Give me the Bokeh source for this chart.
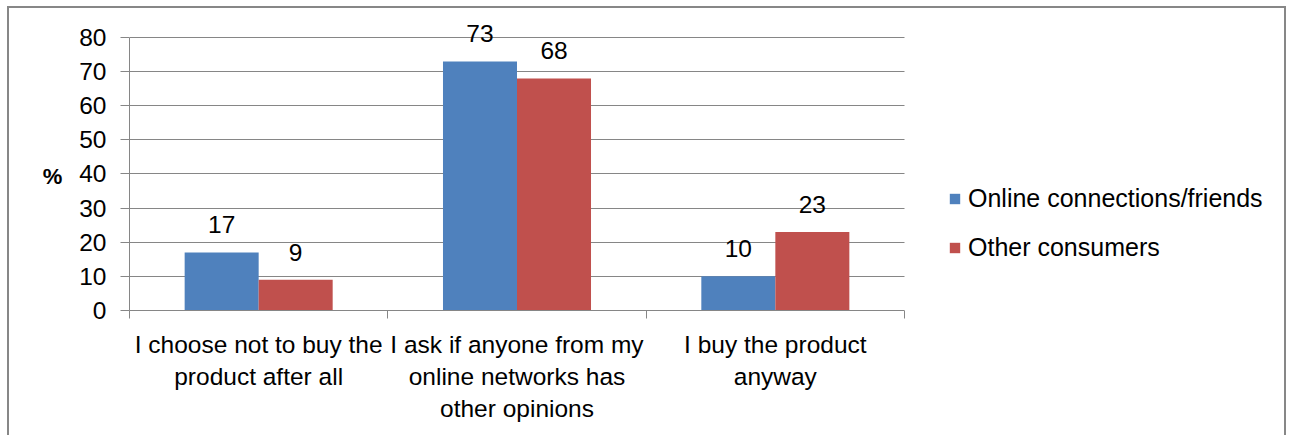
import numpy as np
from bokeh.plotting import figure
from bokeh.models import (Range1d, FixedTicker, ColumnDataSource, Legend, LegendItem,
                          LabelSet, BoxAnnotation)
from bokeh.core.properties import value
from bokeh.embed import file_html
from bokeh.resources import INLINE

categories = ["I choose not to buy the\nproduct after all",
              "I ask if anyone from my\nonline networks has\nother opinions",
              "I buy the product\nanyway"]
series_names = ["Online connections/friends", "Other consumers"]
online_friends = [17, 73, 10]
other_consumers = [9, 68, 23]
y_ticks = [0, 10, 20, 30, 40, 50, 60, 70, 80]
y_title = "%"

FONT = "Liberation Sans"
FS = "24.5px"
BLUE = "#4F81BD"
RED = "#C0504D"
GRAY = "#868686"

n = len(categories)
idx = np.arange(n)
w = 0.2865
centers = idx + 0.5

# canvas placed at (9, 8) inside a 2px CSS border starting at (7, 6)
p = figure(width=1279, height=429, output_backend="svg", toolbar_location=None,
           x_range=Range1d(0, n + 1.4787), y_range=Range1d(0, 86.15),
           min_border_left=120, min_border_right=2, min_border_top=8, min_border_bottom=127,
           margin=(6, 0, 0, 7),
           styles={"border-left": "2px solid #878787", "border-top": "2px solid #878787",
                   "border-right": "2px solid #878787"})
p.outline_line_color = None
p.background_fill_color = "white"
p.border_fill_color = "white"

src1 = ColumnDataSource(dict(x=centers - w / 2, top=online_friends, lab=[str(v) for v in online_friends]))
src2 = ColumnDataSource(dict(x=centers + w / 2, top=other_consumers, lab=[str(v) for v in other_consumers]))

r1 = p.vbar(x="x", top="top", bottom=0, width=w, source=src1, fill_color=BLUE, line_color=None)
r2 = p.vbar(x="x", top="top", bottom=0, width=w, source=src2, fill_color=RED, line_color=None)

# blank out the gridlines to the right of the plot area (legend area)
p.add_layout(BoxAnnotation(left=n, fill_color="white", fill_alpha=1, line_color=None))

for s in (src1, src2):
    p.add_layout(LabelSet(x="x", y="top", text="lab", source=s, text_align="center",
                          text_baseline="alphabetic", y_offset=19, text_font=value(FONT),
                          text_font_size=value(FS), text_color="#000000"))

# y axis
yax = p.yaxis[0]
yax.bounds = (0, 80)
yax.ticker = FixedTicker(ticks=y_ticks)
yax.axis_line_color = GRAY
yax.major_tick_line_color = GRAY
yax.major_tick_out = 9
yax.major_tick_in = 0
yax.minor_tick_line_color = None
yax.major_label_text_font = FONT
yax.major_label_text_font_size = FS
yax.major_label_text_color = "#000000"
yax.major_label_standoff = 14
yax.axis_label = "\n" + y_title
yax.axis_label_orientation = "horizontal"
yax.axis_label_text_font = FONT
yax.axis_label_text_font_size = "22px"
yax.axis_label_text_font_style = "bold"
yax.axis_label_text_color = "#000000"
yax.axis_label_text_line_height = 1.0
yax.axis_label_standoff = 14

# x axis
xax = p.xaxis[0]
xax.bounds = (0, n)
xax.ticker = FixedTicker(ticks=list(centers), minor_ticks=list(range(n + 1)))
xax.major_label_overrides = {float(c): lab for c, lab in zip(centers, categories)}
xax.axis_line_color = GRAY
xax.major_tick_line_color = None
xax.major_tick_out = 0
xax.minor_tick_line_color = GRAY
xax.minor_tick_out = 8
xax.minor_tick_in = 0
xax.major_label_text_font = FONT
xax.major_label_text_font_size = FS
xax.major_label_text_color = "#000000"
xax.major_label_text_line_height = 1.2
xax.major_label_standoff = 12

p.xgrid.grid_line_color = None
p.ygrid.ticker = FixedTicker(ticks=y_ticks)
p.ygrid.grid_line_color = GRAY
p.ygrid.grid_line_width = 1

legend = Legend(items=[LegendItem(label=series_names[0], renderers=[r1]),
                       LegendItem(label=series_names[1], renderers=[r2])],
                location=(819, 48), orientation="vertical")
legend.glyph_width = 13
legend.glyph_height = 13
legend.label_standoff = 7
legend.label_text_font = FONT
legend.label_text_font_size = "25px"
legend.label_text_color = "#000000"
legend.label_height = 28
legend.spacing = 20
legend.padding = 0
legend.margin = 0
legend.border_line_color = None
legend.background_fill_alpha = 0
p.add_layout(legend, "center")

open("out.html", "w").write(file_html(p, INLINE))
